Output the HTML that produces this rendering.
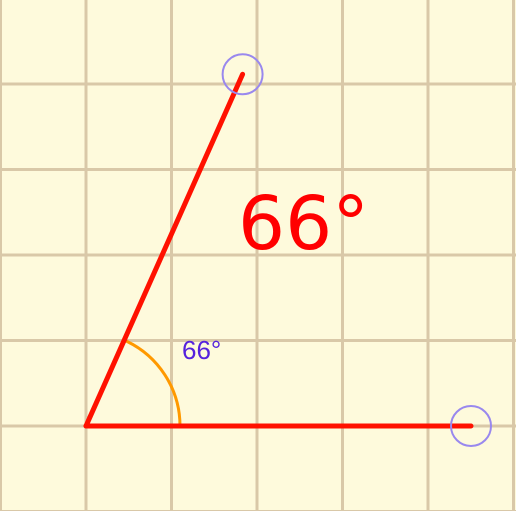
<!DOCTYPE html>
<html><head><meta charset="utf-8"><style>
html,body{margin:0;padding:0;background:#fefadc;}
svg{display:block;}
</style></head><body>
<svg id="chart" width="516" height="511" viewBox="0 0 516 511" xmlns="http://www.w3.org/2000/svg">
<rect x="0" y="0" width="516" height="511" fill="#fefadc"/>
<g id="grid"></g>
<g id="marks"></g>
</svg>
<script>
const angleDeg = [66];
const armLength = [385];
const gridCols = [0,1,2,3,4,5,6];
const gridRows = [-5,-4,-3,-2,-1,0,1];
const labels = ["66°"];

const NS="http://www.w3.org/2000/svg";
const ox=86, oy=426, cell=85.5;
function mk(tag,attrs,parent){const e=document.createElementNS(NS,tag);for(const k in attrs)e.setAttribute(k,attrs[k]);parent.appendChild(e);return e;}
const grid=document.getElementById('grid'), marks=document.getElementById('marks');
gridCols.forEach(c=>{const x=ox+(c-1)*cell;const l=mk('line',{x1:x,y1:0,x2:x,y2:511,stroke:'#d9c8a8','stroke-width':3},grid);

});
gridRows.forEach(r=>{const y=oy+r*cell;const l=mk('line',{x1:0,y1:y,x2:516,y2:y,stroke:'#d9c8a8','stroke-width':3},grid);

});

const a=angleDeg[0]*Math.PI/180, L=armLength[0];
const ex=ox+L*Math.cos(a), ey=oy-L*Math.sin(a);
const hx=ox+L, hy=oy;
const R=94;
const arc=mk('path',{d:`M ${ox+R} ${oy} A ${R} ${R} 0 0 0 ${ox+R*Math.cos(a)} ${oy-R*Math.sin(a)}`,fill:'none',stroke:'#ff9900','stroke-width':3},marks);


const arm1=mk('line',{x1:ox,y1:oy,x2:hx,y2:hy,stroke:'#ff1100','stroke-width':5,'stroke-linecap':'round'},marks);


const arm2=mk('line',{x1:ox,y1:oy,x2:ex,y2:ey,stroke:'#ff1100','stroke-width':5,'stroke-linecap':'round'},marks);


const h1=mk('circle',{cx:ex,cy:ey,r:20,fill:'none',stroke:'#9988ee','stroke-width':2},marks);


const h2=mk('circle',{cx:hx,cy:hy,r:20,fill:'none',stroke:'#9988ee','stroke-width':2},marks);


const t1=mk('text',{x:182,y:359,'font-family':'Liberation Sans, sans-serif','font-size':26,fill:'#5522dd'},marks);
t1.textContent=labels[0];


const t2=mk('text',{x:238,y:249,'font-family':'DejaVu Sans, Liberation Sans, sans-serif','font-size':74,fill:'#ff0000'},marks);
t2.textContent=labels[0];


</script>
</body></html>
